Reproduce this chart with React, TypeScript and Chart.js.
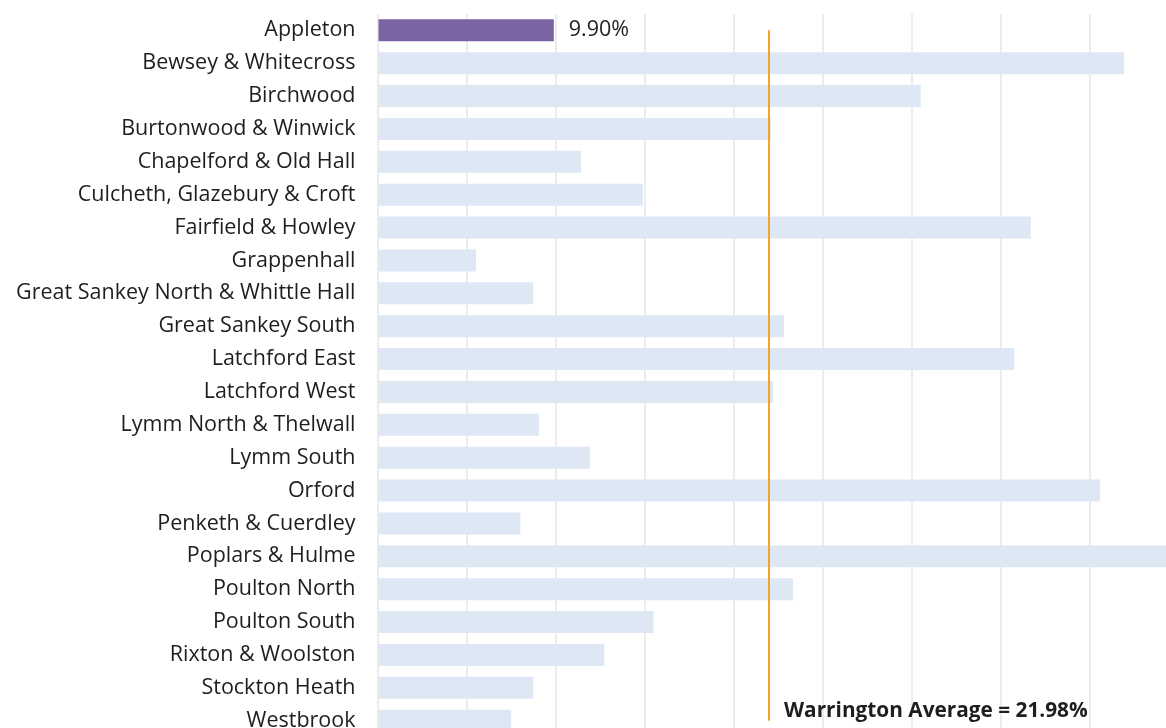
import React, { useEffect, useRef } from "react";
import { Chart, registerables } from "chart.js";

Chart.register(...registerables);

const categories = [
  "Appleton",
  "Bewsey & Whitecross",
  "Birchwood",
  "Burtonwood & Winwick",
  "Chapelford & Old Hall",
  "Culcheth, Glazebury & Croft",
  "Fairfield & Howley",
  "Grappenhall",
  "Great Sankey North & Whittle Hall",
  "Great Sankey South",
  "Latchford East",
  "Latchford West",
  "Lymm North & Thelwall",
  "Lymm South",
  "Orford",
  "Penketh & Cuerdley",
  "Poplars & Hulme",
  "Poulton North",
  "Poulton South",
  "Rixton & Woolston",
  "Stockton Heath",
  "Westbrook",
];

const values = [
  9.9, 41.92, 30.5, 22.09, 11.43, 14.9, 36.68, 5.53, 8.74, 22.82, 35.75, 22.2,
  9.06, 11.92, 40.57, 8.02, 44.5, 23.33, 15.5, 12.74, 8.74, 7.5,
];

const highlighted = "Appleton";
const highlightedLabel = "9.90%";
const averageValue = 21.98;
const averageLabel = "Warrington Average = 21.98%";

const FONT = "'Open Sans', sans-serif";
const FONT_SIZE = 21.5;
const BOLD_SIZE = 20.8;

export default function App() {
  const canvasRef = useRef<HTMLCanvasElement | null>(null);

  useEffect(() => {
    const canvas = canvasRef.current;
    if (!canvas) return;

    const labelPlugin = {
      id: "labels",
      afterDatasetsDraw(chart: any) {
        const ctx = chart.ctx;
        const xs = chart.scales.x;
        const ys = chart.scales.y;
        ctx.save();
        const meta = chart.getDatasetMeta(0);
        const idx = categories.indexOf(highlighted);
        const el = meta.data[idx];
        ctx.font = `${FONT_SIZE}px ${FONT}`;
        ctx.fillStyle = "#1e1e1e";
        ctx.textAlign = "left";
        ctx.textBaseline = "middle";
        ctx.fillText(highlightedLabel, el.x + 15, el.y);

        const ax = xs.getPixelForValue(averageValue);
        const ay = ys.getPixelForValue(categories.length - 1);
        ctx.font = `bold ${BOLD_SIZE}px ${FONT}`;
        ctx.fillText(averageLabel, ax + 15, ay - 10);
        ctx.restore();
      },
    };

    const chart = new Chart(canvas, {
      type: "bar",
      data: {
        labels: categories,
        datasets: [
          {
            type: "bar",
            data: values,
            backgroundColor: categories.map((c) =>
              c === highlighted ? "#7A64A2" : "#DEE8F4"
            ),
            borderWidth: 0,
            barPercentage: 0.67,
            categoryPercentage: 1,
            order: 1,
          } as any,
          {
            type: "line",
            data: [
              { x: averageValue, y: categories[0] },
              { x: averageValue, y: categories[categories.length - 1] },
            ],
            borderColor: "#F5A42A",
            borderWidth: 2,
            pointRadius: 0,
            indexAxis: "y",
            order: 0,
          } as any,
        ],
      },
      options: {
        indexAxis: "y",
        animation: false,
        responsive: false,
        maintainAspectRatio: false,
        layout: { padding: { top: 12, right: 1, bottom: 4, left: 0 } },
        plugins: {
          legend: { display: false },
          tooltip: { enabled: false },
        },
        scales: {
          x: {
            min: 0,
            max: 45,
            ticks: { display: false, stepSize: 5 },
            grid: { color: "#ECECEC", lineWidth: 2, drawTicks: false },
            border: { display: false },
            afterFit(scale: any) {
              scale.height = 0;
            },
          },
          y: {
            ticks: {
              color: "#1e1e1e",
              font: { family: FONT, size: FONT_SIZE },
              padding: 22,
              autoSkip: false,
            },
            grid: { display: false, drawTicks: false },
            border: { display: false },
            afterFit(scale: any) {
              scale.width = 377.5;
            },
          },
        },
      } as any,
      plugins: [labelPlugin],
    });

    return () => chart.destroy();
  }, []);

  return (
    <div
      style={{
        position: "fixed",
        top: 0,
        left: 0,
        width: 1166,
        height: 728,
        overflow: "hidden",
        background: "#ffffff",
      }}
    >
      <canvas
        ref={canvasRef}
        width={1180}
        height={793}
        style={{
          position: "absolute",
          top: -21,
          left: 0,
          width: 1180,
          height: 793,
          display: "block",
        }}
      />
    </div>
  );
}
